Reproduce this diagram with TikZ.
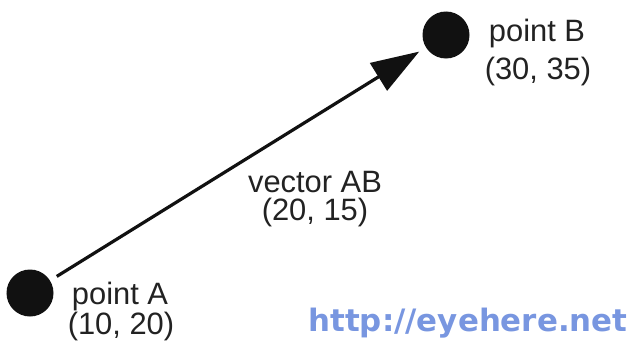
\documentclass[tikz,border=0pt]{standalone}
\usepackage{fontspec}
\setmainfont{Liberation Sans}
\newfontfamily\urlfont{DejaVu Sans}
\usetikzlibrary{arrows.meta}
\definecolor{dotcol}{HTML}{111111}
\definecolor{textcol}{HTML}{222222}
\definecolor{urlcol}{HTML}{7896E0}
\tikzset{
  pt/.style={circle, fill=dotcol, minimum size=47bp, inner sep=0pt, outer sep=0pt},
  lbl/.style={font=\fontsize{31}{32}\selectfont, text=textcol, inner sep=0pt},
  vec/.style={line width=3.2bp, draw=dotcol, shorten >=8bp, shorten <=8bp,
    -{Triangle[length=48bp,width=32bp]}},
  urltxt/.style={font=\urlfont\bfseries\fontsize{31}{32}\selectfont, inner sep=0pt}
}
\begin{document}
\begin{tikzpicture}[x=1bp,y=1bp]
\path[use as bounding box] (0,0) rectangle (638,345);
\node[pt] (A) at (30,52) {};
\node[pt] (B) at (446,310) {};
\draw[vec] (A) -- (B);
\node[lbl] (la1) at (120,48) {point A};
\node[lbl] (la2) at (121,18) {(10, 20)};
\node[lbl] (lb1) at (537,311) {point B};
\node[lbl] (lb2) at (538,273) {(30, 35)};
\node[lbl] (lv1) at (315,163) {vector AB};
\node[lbl] (lv2) at (315,132) {(20, 15)};
\node[urltxt, text=urlcol] (url) at (468,22) {http://eyehere.net};
\end{tikzpicture}
\end{document}
